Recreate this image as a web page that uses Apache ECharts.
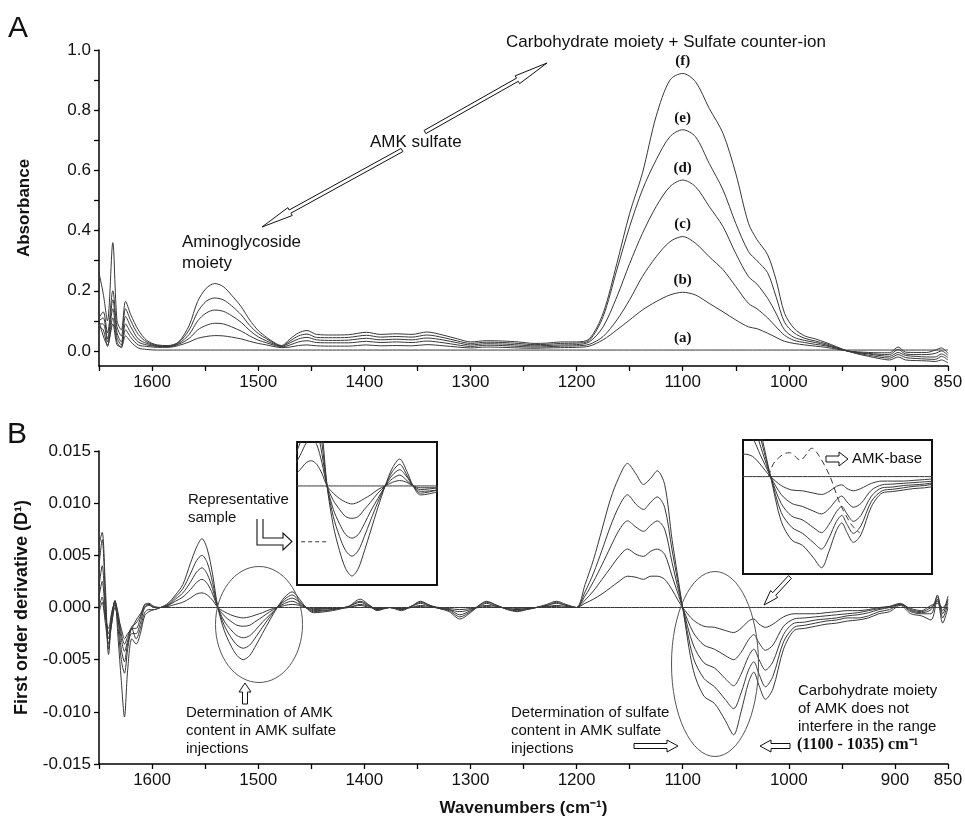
<!DOCTYPE html>
<html>
<head>
<meta charset="utf-8">
<title>AMK sulfate FTIR spectra</title>
<script src="https://cdn.jsdelivr.net/npm/echarts@6.0.0/dist/echarts.min.js"></script>
<style>
  html, body { margin: 0; padding: 0; background: #fff; }
  #chart { width: 965px; height: 820px; }
</style>
</head>
<body>
<div id="chart"></div>
<script>
// ---- panel A: absorbance spectra (a)..(f) ----
const wnA = [
  1650, 1646, 1642, 1637, 1633, 1629, 1625, 1620, 1613, 1605,
  1595, 1585, 1575, 1565, 1557, 1549, 1541, 1533, 1525, 1516,
  1508, 1500, 1492, 1484, 1478, 1470, 1462, 1454, 1445, 1430,
  1415, 1398, 1385, 1370, 1355, 1341, 1325, 1312, 1300, 1285,
  1270, 1255, 1240, 1228, 1215, 1200, 1188, 1175, 1162, 1150,
  1138, 1125, 1112, 1100, 1088, 1075, 1062, 1050, 1038, 1030,
  1020, 1012, 1004, 995, 985, 975, 965, 955, 945, 935,
  925, 915, 905, 897, 890, 880, 870, 862, 856, 850
]
const absA = [
  0.10, 0.05, 0.02, 0.09, 0.02, 0.015, 0.05, 0.03, 0.01, 0.005,
  0.003, 0.003, 0.003, 0.003, 0.003, 0.003, 0.003, 0.003, 0.003, 0.003,
  0.003, 0.003, 0.003, 0.003, 0.003, 0.003, 0.003, 0.003, 0.003, 0.003,
  0.003, 0.003, 0.003, 0.003, 0.003, 0.003, 0.003, 0.003, 0.003, 0.003,
  0.003, 0.003, 0.003, 0.003, 0.003, 0.003, 0.003, 0.003, 0.003, 0.003,
  0.003, 0.003, 0.003, 0.003, 0.003, 0.003, 0.003, 0.003, 0.003, 0.003,
  0.003, 0.003, 0.003, 0.003, 0.003, 0.003, 0.003, 0.003, 0.003, 0.003,
  0.003, 0.003, 0.003, 0.003, 0.003, 0.003, 0.003, 0.003, 0.003, 0.003
]
const absB = [
  0.08, 0.07, 0.015, 0.11, 0.03, 0.01, 0.07, 0.045, 0.02, 0.015,
  0.012, 0.012, 0.018, 0.030, 0.042, 0.048, 0.051, 0.050, 0.046, 0.040,
  0.032, 0.025, 0.020, 0.014, 0.011, 0.013, 0.018, 0.020, 0.017, 0.016,
  0.016, 0.020, 0.017, 0.018, 0.017, 0.021, 0.017, 0.013, 0.010, 0.013,
  0.012, 0.010, 0.009, 0.010, 0.011, 0.012, 0.016, 0.037, 0.070, 0.103,
  0.136, 0.164, 0.186, 0.195, 0.186, 0.158, 0.130, 0.103, 0.080, 0.074,
  0.059, 0.045, 0.032, 0.025, 0.020, 0.016, 0.012, 0.006, 0.000, -0.003,
  -0.005, -0.006, -0.006, 0.013, -0.004, -0.005, -0.005, 0.003, 0.010, -0.008
]
const absC = [
  0.09, 0.09, 0.03, 0.14, 0.045, 0.02, 0.09, 0.06, 0.03, 0.02,
  0.015, 0.014, 0.022, 0.042, 0.070, 0.085, 0.092, 0.090, 0.080, 0.066,
  0.050, 0.036, 0.027, 0.018, 0.013, 0.020, 0.030, 0.034, 0.028, 0.027,
  0.027, 0.032, 0.028, 0.030, 0.028, 0.033, 0.027, 0.020, 0.015, 0.019,
  0.018, 0.015, 0.013, 0.014, 0.016, 0.017, 0.022, 0.048, 0.103, 0.170,
  0.247, 0.313, 0.363, 0.380, 0.358, 0.313, 0.270, 0.214, 0.158, 0.140,
  0.110, 0.080, 0.052, 0.035, 0.028, 0.022, 0.017, 0.009, 0.000, -0.005,
  -0.008, -0.011, -0.012, 0.005, -0.010, -0.012, -0.012, -0.008, 0.000, -0.015
]
const absD = [
  0.10, 0.11, 0.04, 0.17, 0.06, 0.03, 0.115, 0.08, 0.04, 0.025,
  0.016, 0.015, 0.025, 0.055, 0.100, 0.126, 0.136, 0.132, 0.117, 0.095,
  0.068, 0.047, 0.033, 0.021, 0.015, 0.027, 0.040, 0.045, 0.037, 0.035,
  0.036, 0.042, 0.037, 0.039, 0.037, 0.043, 0.036, 0.027, 0.020, 0.024,
  0.023, 0.020, 0.017, 0.018, 0.020, 0.021, 0.030, 0.080, 0.180, 0.290,
  0.390, 0.480, 0.546, 0.568, 0.546, 0.480, 0.413, 0.324, 0.247, 0.222,
  0.175, 0.125, 0.070, 0.045, 0.035, 0.028, 0.020, 0.010, 0.000, -0.006,
  -0.010, -0.015, -0.018, -0.005, -0.015, -0.018, -0.020, -0.020, -0.010, -0.022
]
const absE = [
  0.11, 0.13, 0.06, 0.20, 0.08, 0.05, 0.14, 0.10, 0.055, 0.03,
  0.018, 0.016, 0.028, 0.070, 0.130, 0.165, 0.176, 0.170, 0.150, 0.120,
  0.085, 0.058, 0.040, 0.024, 0.016, 0.033, 0.050, 0.056, 0.045, 0.044,
  0.045, 0.052, 0.046, 0.048, 0.046, 0.053, 0.044, 0.033, 0.025, 0.029,
  0.028, 0.025, 0.021, 0.022, 0.025, 0.026, 0.035, 0.114, 0.270, 0.413,
  0.535, 0.635, 0.712, 0.735, 0.712, 0.623, 0.535, 0.424, 0.330, 0.300,
  0.260, 0.180, 0.095, 0.060, 0.042, 0.033, 0.024, 0.012, 0.000, -0.008,
  -0.014, -0.020, -0.024, -0.012, -0.022, -0.025, -0.027, -0.028, -0.018, -0.030
]
const absF = [
  0.26, 0.19, 0.10, 0.36, 0.10, 0.07, 0.165, 0.12, 0.07, 0.035,
  0.020, 0.018, 0.030, 0.085, 0.165, 0.208, 0.224, 0.214, 0.185, 0.147,
  0.103, 0.068, 0.045, 0.026, 0.018, 0.040, 0.060, 0.068, 0.055, 0.053,
  0.054, 0.062, 0.055, 0.057, 0.055, 0.063, 0.052, 0.040, 0.030, 0.034,
  0.033, 0.030, 0.025, 0.026, 0.030, 0.030, 0.040, 0.125, 0.291, 0.457,
  0.590, 0.780, 0.900, 0.922, 0.895, 0.806, 0.723, 0.590, 0.424, 0.370,
  0.320, 0.236, 0.125, 0.075, 0.050, 0.040, 0.028, 0.014, 0.000, -0.010,
  -0.018, -0.025, -0.030, -0.020, -0.030, -0.032, -0.033, -0.035, -0.030, -0.040
]
const sampleTags = ['(a)', '(b)', '(c)', '(d)', '(e)', '(f)']

// ---- panel B: first order derivative (D1) ----
const wnB = [
  1650, 1647, 1644, 1641, 1638, 1635, 1632, 1629, 1626, 1623, 1619, 1615, 1611, 1607, 1603, 1598, 1592,
  1585, 1578, 1571, 1564, 1558, 1553, 1548, 1543, 1538,
  1532, 1526, 1520, 1514, 1508, 1502, 1496, 1489, 1482, 1475, 1468, 1461, 1455, 1448,
  1430, 1415, 1404, 1395, 1388, 1376, 1365, 1356, 1347, 1338, 1329, 1320, 1310, 1300, 1292, 1285, 1275, 1265, 1256, 1247, 1238, 1228, 1219, 1210, 1200,
  1192, 1184, 1176, 1168, 1160, 1152, 1144, 1137, 1130, 1124, 1117, 1110, 1105, 1100,
  1090, 1080, 1070, 1060, 1052, 1045, 1038, 1033, 1028, 1022, 1015, 1005, 995, 985,
  975, 965, 955, 945, 935, 925, 915, 905, 895, 885, 875, 866, 860, 855, 850
]
const derA = [
  -0.0005, 0.0005, -0.0015, -0.0035, -0.0015, 0.0000, -0.0010, -0.0020, -0.0030, -0.0025, -0.0020, -0.0012, -0.0006, 0.0000, 0.0002, 0.0000, 0,
  0, 0, 0, 0, 0, 0, 0, 0, 0,
  0, 0, 0, 0, 0, 0, 0, 0, 0, 0, 0, 0, 0, 0,
  0, 0, 0, 0, 0, 0, 0, 0, 0, 0, 0, 0, 0, 0, 0, 0, 0, 0, 0, 0, 0, 0, 0, 0, 0,
  0, 0, 0, 0, 0, 0, 0, 0, 0, 0, 0, 0, 0, 0,
  0, 0, 0, 0, 0, 0, 0, 0, 0, 0, 0, 0, 0, 0,
  0, 0, 0, 0, 0, 0, 0, 0, 0, 0, 0, 0, 0, 0, 0
]
const derB = [
  0.0000, 0.0010, -0.0010, -0.0020, -0.0005, 0.0005, -0.0005, -0.0025, -0.0035, -0.0028, -0.0018, -0.0015, -0.0008, 0.0003, 0.0004, 0.0001, 0,
  0.0001, 0.0003, 0.0005, 0.0009, 0.0013, 0.0014, 0.0012, 0.0007, 0,
  -0.0004, -0.0007, -0.0009, -0.0010, -0.0009, -0.0007, -0.0005, -0.0002, 0, 0.0002, 0.0003, 0.0002, 0, -0.0001,
  -0.0001, 0, 0.0002, 0, -0.0001, 0, -0.0001, 0, 0.0001, 0, 0, -0.0001, -0.0002, -0.0001, 0, 0.0001, 0, 0, -0.0001, 0, 0, 0.0001, 0.0001, 0, 0,
  0.0004, 0.0008, 0.0013, 0.0019, 0.0025, 0.0030, 0.0029, 0.0027, 0.0030, 0.0030, 0.0027, 0.0017, 0.0008, 0,
  -0.0012, -0.0018, -0.0019, -0.0022, -0.0024, -0.0020, -0.0013, -0.0011, -0.0016, -0.0019, -0.0016, -0.0009, -0.0006, -0.0006,
  -0.0006, -0.0005, -0.0004, -0.0003, -0.0003, -0.0002, 0.0000, 0.0001, 0.0003, -0.0001, -0.0003, 0.0002, 0.0004, 0.0000, 0.0006
]
const derC = [
  0.0010, 0.0025, -0.0005, -0.0025, -0.0010, 0.0007, -0.0010, -0.0030, -0.0042, -0.0032, -0.0020, -0.0020, -0.0010, 0.0002, 0.0003, 0.0000, 0,
  0.0002, 0.0006, 0.0010, 0.0017, 0.0024, 0.0027, 0.0023, 0.0013, 0,
  -0.0008, -0.0013, -0.0017, -0.0018, -0.0017, -0.0013, -0.0009, -0.0004, 0, 0.0004, 0.0006, 0.0003, 0, -0.0002,
  -0.0001, 0, 0.0003, 0.0001, -0.0001, 0, -0.0001, 0, 0.0002, 0.0001, 0, -0.0002, -0.0004, -0.0002, 0.0001, 0.0002, 0.0001, -0.0001, -0.0002, -0.0001, 0, 0.0001, 0.0002, 0.0001, 0,
  0.0007, 0.0016, 0.0027, 0.0038, 0.0049, 0.0056, 0.0051, 0.0049, 0.0054, 0.0056, 0.0051, 0.0030, 0.0015, 0,
  -0.0024, -0.0036, -0.0040, -0.0046, -0.0050, -0.0043, -0.0031, -0.0026, -0.0034, -0.0041, -0.0036, -0.0018, -0.0011, -0.0010,
  -0.0009, -0.0008, -0.0007, -0.0006, -0.0005, -0.0003, -0.0001, 0.0001, 0.0004, -0.0002, -0.0004, 0.0000, 0.0006, -0.0003, 0.0011
]
const derD = [
  0.0020, 0.0040, 0.0000, -0.0030, -0.0015, 0.0003, -0.0012, -0.0040, -0.0052, -0.0035, -0.0025, -0.0025, -0.0015, 0.0000, 0.0003, 0.0000, 0,
  0.0002, 0.0008, 0.0014, 0.0024, 0.0034, 0.0038, 0.0032, 0.0018, 0,
  -0.0013, -0.0021, -0.0027, -0.0029, -0.0027, -0.0021, -0.0014, -0.0007, 0, 0.0006, 0.0009, 0.0005, 0, -0.0003,
  -0.0002, 0.0001, 0.0005, 0.0001, -0.0002, 0, -0.0002, 0.0001, 0.0004, 0.0001, -0.0001, -0.0002, -0.0007, -0.0003, 0.0001, 0.0004, 0.0001, -0.0001, -0.0002, -0.0001, 0, 0.0002, 0.0004, 0.0002, 0,
  0.0011, 0.0025, 0.0041, 0.0058, 0.0074, 0.0083, 0.0077, 0.0073, 0.0079, 0.0083, 0.0075, 0.0043, 0.0021, 0,
  -0.0036, -0.0053, -0.0058, -0.0068, -0.0075, -0.0064, -0.0047, -0.0040, -0.0050, -0.0060, -0.0052, -0.0026, -0.0015, -0.0014,
  -0.0012, -0.0011, -0.0010, -0.0008, -0.0007, -0.0005, -0.0002, 0.0000, 0.0003, -0.0003, -0.0005, -0.0002, 0.0010, -0.0006, 0.0008
]
const derE = [
  0.0040, 0.0065, 0.0010, -0.0045, -0.0010, 0.0006, -0.0020, -0.0050, -0.0063, -0.0040, -0.0020, -0.0030, -0.0020, -0.0005, -0.0002, -0.0002, 0,
  0.0003, 0.0010, 0.0018, 0.0032, 0.0045, 0.0050, 0.0043, 0.0024, 0,
  -0.0017, -0.0028, -0.0036, -0.0039, -0.0036, -0.0028, -0.0019, -0.0009, 0, 0.0008, 0.0012, 0.0006, 0, -0.0004,
  -0.0002, 0.0001, 0.0006, 0.0002, -0.0002, 0, -0.0002, 0.0001, 0.0005, 0.0002, -0.0001, -0.0003, -0.0009, -0.0004, 0.0002, 0.0005, 0.0002, -0.0002, -0.0003, -0.0002, 0, 0.0002, 0.0005, 0.0002, 0,
  0.0015, 0.0033, 0.0055, 0.0078, 0.0097, 0.0108, 0.0099, 0.0094, 0.0101, 0.0106, 0.0096, 0.0055, 0.0027, 0,
  -0.0048, -0.0068, -0.0076, -0.0088, -0.0097, -0.0082, -0.0060, -0.0052, -0.0064, -0.0076, -0.0066, -0.0033, -0.0019, -0.0017,
  -0.0015, -0.0013, -0.0012, -0.0010, -0.0010, -0.0008, -0.0004, -0.0002, 0.0003, -0.0004, -0.0006, -0.0006, 0.0012, -0.0010, 0.0004
]
const derF = [
  0.0060, 0.0072, 0.0020, -0.0040, -0.0005, 0.0005, -0.0030, -0.0070, -0.0105, -0.0060, -0.0030, -0.0035, -0.0025, -0.0008, -0.0004, -0.0002, 0,
  0.0004, 0.0012, 0.0022, 0.0042, 0.0058, 0.0066, 0.0056, 0.0032, 0,
  -0.0022, -0.0036, -0.0046, -0.0050, -0.0046, -0.0036, -0.0025, -0.0012, 0, 0.0010, 0.0015, 0.0008, 0, -0.0005,
  -0.0003, 0.0001, 0.0008, 0.0002, -0.0003, 0.0000, -0.0003, 0.0001, 0.0006, 0.0002, -0.0001, -0.0004, -0.0011, -0.0005, 0.0002, 0.0006, 0.0002, -0.0002, -0.0004, -0.0002, 0.0000, 0.0003, 0.0006, 0.0003, 0,
  0.0022, 0.0046, 0.0075, 0.0104, 0.0125, 0.0138, 0.0128, 0.0118, 0.0124, 0.0131, 0.0118, 0.0065, 0.0032, 0,
  -0.0060, -0.0085, -0.0092, -0.0108, -0.0122, -0.0100, -0.0072, -0.0062, -0.0075, -0.0088, -0.0078, -0.0040, -0.0022, -0.0020,
  -0.0018, -0.0016, -0.0015, -0.0013, -0.0012, -0.0010, -0.0006, -0.0004, 0.0002, -0.0006, -0.0008, -0.0012, 0.0008, -0.0015, 0.0000
]
// AMK-base (dashed curve in the right inset)
const baseWn = [1102, 1097, 1088, 1082, 1072, 1061, 1054, 1044, 1035, 1025, 1019, 1016]
const baseD1 = [0.0, 0.0018, 0.0030, 0.0032, 0.0022, 0.0038, 0.0027, 0.0, -0.0035, -0.0062, -0.0072, -0.0075]
// representative sample level (dashed line in the left inset)
const repWn = [1563, 1536]
const repD1 = [-0.0031, -0.0031]

// axis ticks / labels
const wnTicks = [850, 900, 950, 1000, 1050, 1100, 1150, 1200, 1250, 1300, 1350, 1400, 1450, 1500, 1550, 1600, 1650]
const wnLabels = [850, 900, 1000, 1100, 1200, 1300, 1400, 1500, 1600]
const absTicks = [0, 0.1, 0.2, 0.3, 0.4, 0.5, 0.6, 0.7, 0.8, 0.9, 1.0]
const absLabels = [0, 0.2, 0.4, 0.6, 0.8, 1.0]

const FONT = "'Liberation Sans', Arial, sans-serif"
const SERIF = "'Liberation Serif', 'Times New Roman', serif"
const INK = '#383838'

function pairs(xs, ys) {
  return xs.map((x, i) => [x, ys[i]])
}

function spectrum(name, xs, ys, axis, extra) {
  return Object.assign({
    name: name,
    type: 'line',
    data: pairs(xs, ys),
    xAxisIndex: axis,
    yAxisIndex: axis,
    symbol: 'none',
    showSymbol: false,
    smooth: 0.3,
    clip: true,
    silent: true,
    lineStyle: { color: INK, width: 1 }
  }, extra || {})
}

function wnAxis(grid, show) {
  return {
    gridIndex: grid,
    type: 'value',
    inverse: true,
    min: 850,
    max: 1650,
    show: show,
    axisLine: { onZero: false, lineStyle: { color: '#000', width: 1.5 } },
    axisTick: { customValues: wnTicks, length: 5, lineStyle: { color: '#000', width: 1.3 } },
    axisLabel: {
      customValues: wnLabels,
      formatter: v => String(v),
      fontSize: 17, color: '#111', fontFamily: FONT, margin: 8
    },
    splitLine: { show: false }
  }
}

function hollowArrow(x1, y1, x2, y2, shaft, headLen, headHalf, twoHeads) {
  const dx = x2 - x1
  const dy = y2 - y1
  const len = Math.hypot(dx, dy)
  const ux = dx / len, uy = dy / len
  const nx = -uy, ny = ux
  const P = (s, t) => [x1 + ux * s + nx * t, y1 + uy * s + ny * t]
  const pts = []
  if (twoHeads) {
    pts.push(P(0, 0), P(headLen, headHalf), P(headLen, shaft))
  } else {
    pts.push(P(0, shaft))
  }
  pts.push(P(len - headLen, shaft), P(len - headLen, headHalf), P(len, 0), P(len - headLen, -headHalf), P(len - headLen, -shaft))
  if (twoHeads) {
    pts.push(P(headLen, -shaft), P(headLen, -headHalf))
  } else {
    pts.push(P(0, -shaft))
  }
  return { type: 'polygon', z: 50, shape: { points: pts }, style: { fill: '#fff', stroke: '#111', lineWidth: 1 } }
}

function note(text, x, y, size, extra) {
  return {
    type: 'text', x: x, y: y, z: 60,
    style: Object.assign({
      text: text, fontSize: size, fontFamily: FONT, fill: '#111',
      align: 'left', textAlign: 'left', verticalAlign: 'top', textVerticalAlign: 'top',
      lineHeight: Math.round(size * 1.2)
    }, extra || {})
  }
}

const absSets = [absA, absB, absC, absD, absE, absF]
const derSets = [derA, derB, derC, derD, derE, derF]
const peakAt = wnA.indexOf(1100)

const topSeries = absSets.map((ys, k) => spectrum(sampleTags[k], wnA, ys, 0, {
  markPoint: {
    symbol: 'circle',
    symbolSize: 1,
    silent: true,
    itemStyle: { color: 'rgba(0,0,0,0)' },
    label: {
      show: true, position: 'top', distance: 4, formatter: sampleTags[k],
      fontFamily: SERIF, fontWeight: 'bold', fontSize: 15, color: '#111'
    },
    data: [{ coord: [wnA[peakAt], ys[peakAt]] }]
  }
}))
const bottomSeries = derSets.map(ys => spectrum('D1', wnB, ys, 1))
const inset1Series = derSets.map(ys => spectrum('D1 inset', wnB, ys, 2))
const inset2Series = derSets.map(ys => spectrum('D1 inset', wnB, ys, 3))
const baseSeries = spectrum('AMK-base', baseWn, baseD1, 3, {
  lineStyle: { color: INK, width: 1, type: [6, 4] }
})
const repSeries = spectrum('Representative sample', repWn, repD1, 2, {
  smooth: false,
  lineStyle: { color: INK, width: 1, type: [4, 3] }
})

const chart = echarts.init(document.getElementById('chart'))
chart.setOption({
  animation: false,
  backgroundColor: '#fff',
  grid: [
    { left: 99, top: 50, width: 849, height: 316, outerBoundsMode: 'none' },
    { left: 99, top: 451, width: 849, height: 313, outerBoundsMode: 'none' },
    { left: 297, top: 442, width: 140, height: 143, show: true, borderColor: '#111', borderWidth: 2, backgroundColor: '#fff', outerBoundsMode: 'none' },
    { left: 743, top: 440, width: 189, height: 134, show: true, borderColor: '#111', borderWidth: 2, backgroundColor: '#fff', outerBoundsMode: 'none' }
  ],
  xAxis: [
    wnAxis(0, true),
    Object.assign(wnAxis(1, true), {
      name: 'Wavenumbers (cm\u207B\u00B9)',
      nameLocation: 'middle',
      nameGap: 36,
      nameTextStyle: { fontSize: 17, fontWeight: 'bold', fontFamily: FONT, color: '#111' }
    }),
    { gridIndex: 2, type: 'value', inverse: true, min: 1432, max: 1567, show: false, splitLine: { show: false } },
    { gridIndex: 3, type: 'value', inverse: true, min: 948, max: 1126, show: false, splitLine: { show: false } }
  ],
  yAxis: [
    {
      gridIndex: 0, type: 'value', min: -0.05, max: 1.0,
      name: 'Absorbance', nameLocation: 'middle', nameGap: 66,
      nameTextStyle: { fontSize: 17, fontWeight: 'bold', fontFamily: FONT, color: '#111' },
      axisLine: { show: true, lineStyle: { color: '#000', width: 1.5 } },
      axisTick: { show: true, customValues: absTicks, length: 5, lineStyle: { color: '#000', width: 1.3 } },
      axisLabel: { customValues: absLabels, formatter: v => v.toFixed(1), fontSize: 17, color: '#111', fontFamily: FONT },
      splitLine: { show: false }
    },
    {
      gridIndex: 1, type: 'value', min: -0.015, max: 0.015, interval: 0.005,
      name: 'First order derivative (D\u00B9)', nameLocation: 'middle', nameGap: 68,
      nameTextStyle: { fontSize: 18, fontWeight: 'bold', fontFamily: FONT, color: '#111' },
      axisLine: { show: true, lineStyle: { color: '#000', width: 1.5 } },
      axisTick: { show: true, length: 5, lineStyle: { color: '#000', width: 1.3 } },
      axisLabel: {
        formatter: v => (Math.abs(v) < 1e-9 ? '0.000' : v.toFixed(3)),
        fontSize: 17, color: '#111', fontFamily: FONT
      },
      splitLine: { show: false }
    },
    { gridIndex: 2, type: 'value', min: -0.0055, max: 0.00244, show: false, splitLine: { show: false } },
    { gridIndex: 3, type: 'value', min: -0.01304, max: 0.0049, show: false, splitLine: { show: false } }
  ],
  series: [].concat(topSeries, bottomSeries, inset1Series, inset2Series, [baseSeries, repSeries]),
  graphic: [
    // panel letters
    note('A', 8, 11, 30),
    note('B', 7, 417, 30),
    // panel A notes
    note('Carbohydrate moiety + Sulfate counter-ion', 506, 32, 17),
    note('AMK sulfate', 370, 132, 17),
    note('Aminoglycoside\nmoiety', 182, 232, 17, { lineHeight: 21 }),
    hollowArrow(402, 150, 262, 227, 1.8, 32, 4.5, false),
    hollowArrow(425, 132, 547, 63, 1.8, 34, 4.5, false),
    // panel B notes
    note('Representative\nsample', 188, 491, 15, { lineHeight: 18 }),
    {
      type: 'polyline', z: 50,
      shape: { points: [[257, 519], [257, 545], [283, 545], [283, 550], [292, 541.5], [283, 533], [283, 538], [263, 538], [263, 519]] },
      style: { fill: 'none', stroke: '#111', lineWidth: 1.1 }
    },
    { type: 'ellipse', z: 40, shape: { cx: 259, cy: 624.5, rx: 43.5, ry: 58 }, style: { fill: 'none', stroke: '#555', lineWidth: 1 } },
    { type: 'ellipse', z: 40, shape: { cx: 715, cy: 664, rx: 43.5, ry: 92.5 }, style: { fill: 'none', stroke: '#555', lineWidth: 1 } },
    hollowArrow(245, 704, 245, 683, 2.5, 9, 6, false),
    note('Determination of AMK\ncontent in AMK sulfate\ninjections', 186, 704, 15, { lineHeight: 18 }),
    note('Determination of sulfate\ncontent in AMK sulfate\ninjections', 511, 704, 15, { lineHeight: 18 }),
    hollowArrow(634, 746, 678, 746, 2.5, 11, 6, false),
    hollowArrow(790, 746, 760, 746, 2.5, 11, 6, false),
    note('Carbohydrate moiety\nof AMK does not\ninterfere in the range', 798, 682, 15, { lineHeight: 18 }),
    note('(1100 - 1035) cm\u207B\u00B9', 797, 735, 16, { fontFamily: SERIF, fontWeight: 'bold' }),
    hollowArrow(790, 577, 764, 605, 2, 15, 5, false),
    hollowArrow(826, 459, 848, 459, 3, 9, 7, false),
    note('AMK-base', 852, 450, 15)
  ]
})
</script>
</body>
</html>
